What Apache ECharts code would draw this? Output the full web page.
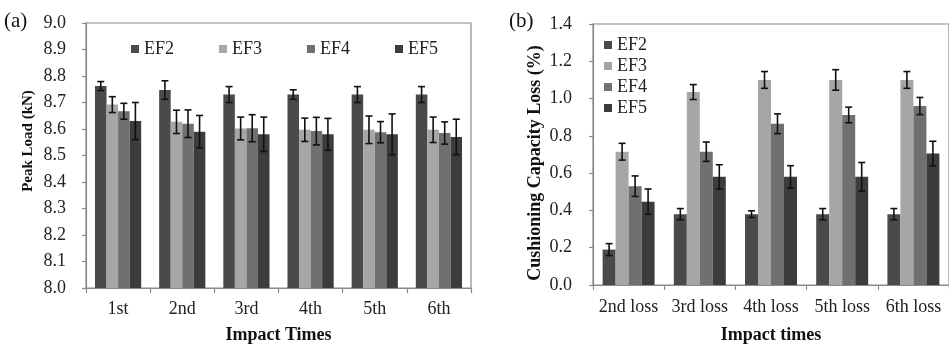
<!DOCTYPE html>
<html>
<head>
<meta charset="utf-8">
<script src="https://cdn.jsdelivr.net/npm/echarts@6/dist/echarts.min.js"></script>
<style>html,body{margin:0;padding:0;background:#fff;}#c{width:949px;height:349px;}</style>
</head>
<body>
<div id="c"></div>
<script>
// ---- Data ----
const seriesNames = ['EF2', 'EF3', 'EF4', 'EF5'];
const catsA = ['1st', '2nd', '3rd', '4th', '5th', '6th'];
const catsB = ['2nd loss', '3rd loss', '4th loss', '5th loss', '6th loss'];
const yTicksA = [8.0, 8.1, 8.2, 8.3, 8.4, 8.5, 8.6, 8.7, 8.8, 8.9, 9.0];
const yTicksB = [0.0, 0.2, 0.4, 0.6, 0.8, 1.0, 1.2, 1.4];

// (a) Peak load (kN)
const peakEF2 = [8.762, 8.747, 8.730, 8.730, 8.730, 8.730];
const peakEF3 = [8.692, 8.627, 8.602, 8.597, 8.597, 8.597];
const peakEF4 = [8.667, 8.620, 8.603, 8.592, 8.588, 8.585];
const peakEF5 = [8.630, 8.590, 8.580, 8.580, 8.580, 8.570];
const peakErrEF2 = [0.017, 0.035, 0.030, 0.018, 0.030, 0.030];
const peakErrEF3 = [0.030, 0.044, 0.043, 0.044, 0.052, 0.048];
const peakErrEF4 = [0.030, 0.052, 0.051, 0.052, 0.040, 0.042];
const peakErrEF5 = [0.070, 0.061, 0.065, 0.060, 0.077, 0.067];

// (b) Cushioning capacity loss (%)
const lossEF2 = [0.19, 0.38, 0.38, 0.38, 0.38];
const lossEF3 = [0.715, 1.035, 1.10, 1.10, 1.10];
const lossEF4 = [0.53, 0.715, 0.865, 0.912, 0.96];
const lossEF5 = [0.447, 0.58, 0.58, 0.58, 0.705];
const lossErrEF2 = [0.032, 0.030, 0.018, 0.030, 0.030];
const lossErrEF3 = [0.045, 0.040, 0.045, 0.055, 0.045];
const lossErrEF4 = [0.055, 0.052, 0.053, 0.042, 0.046];
const lossErrEF5 = [0.068, 0.065, 0.060, 0.077, 0.066];

const colors = ['#4a4a4a', '#a6a6a6', '#707070', '#3c3c3c'];
const FONT = 'Liberation Serif';
const gapA = 0.28, gapB = 0.27;

const valsA = [peakEF2, peakEF3, peakEF4, peakEF5];
const errsA = [peakErrEF2, peakErrEF3, peakErrEF4, peakErrEF5];
const valsB = [lossEF2, lossEF3, lossEF4, lossEF5];
const errsB = [lossErrEF2, lossErrEF3, lossErrEF4, lossErrEF5];

function errSeries(axisIdx, vals, errs, k, gap) {
  return {
    type: 'custom',
    xAxisIndex: axisIdx, yAxisIndex: axisIdx,
    z: 5, silent: true,
    data: vals.map((v, i) => [i, v, errs[i]]),
    renderItem: function (params, api) {
      const cat = api.value(0), v = api.value(1), e = api.value(2);
      const band = api.size([1, 0])[0];
      const bw = band * (1 - gap) / 4;
      const cx = api.coord([cat, v])[0] + (k - 1.5) * bw;
      const y1 = api.coord([cat, v + e])[1];
      const y2 = api.coord([cat, v - e])[1];
      const h = 3.5;
      const st = { stroke: '#111', lineWidth: 1.6 };
      return { type: 'group', children: [
        { type: 'line', shape: { x1: cx, y1: y1, x2: cx, y2: y2 }, style: st },
        { type: 'line', shape: { x1: cx - h, y1: y1, x2: cx + h, y2: y1 }, style: st },
        { type: 'line', shape: { x1: cx - h, y1: y2, x2: cx + h, y2: y2 }, style: st }
      ]};
    }
  };
}

const series = [];
seriesNames.forEach((n, k) => {
  series.push({ name: n, type: 'bar', xAxisIndex: 0, yAxisIndex: 0, data: valsA[k],
    barGap: '0%', barCategoryGap: (gapA * 100) + '%', itemStyle: { color: colors[k] } });
});
seriesNames.forEach((n, k) => {
  series.push({ name: n, type: 'bar', xAxisIndex: 1, yAxisIndex: 1, data: valsB[k],
    barGap: '0%', barCategoryGap: (gapB * 100) + '%', itemStyle: { color: colors[k] } });
});
seriesNames.forEach((n, k) => series.push(errSeries(0, valsA[k], errsA[k], k, gapA)));
seriesNames.forEach((n, k) => series.push(errSeries(1, valsB[k], errsB[k], k, gapB)));

const axisLineStyle = { color: '#8a8a8a', width: 1.2 };
const labelStyle = { color: '#222', fontFamily: FONT, fontSize: 18 };
const nameStyle = { color: '#111', fontFamily: FONT, fontSize: 18, fontWeight: 'bold' };

const option = {
  animation: false,
  backgroundColor: '#fff',
  grid: [
    { left: 86, top: 23, width: 385, height: 268, show: true, borderColor: '#8a8a8a', borderWidth: 1.2, containLabel: false },
    { left: 593, top: 24, width: 364, height: 268, show: true, borderColor: '#8a8a8a', borderWidth: 1.2, containLabel: false }
  ],
  legend: [
    { data: seriesNames, left: 126, top: 35, itemWidth: 8, itemHeight: 8, itemGap: 45, icon: 'rect',
      textStyle: { fontFamily: FONT, fontSize: 18, color: '#222' } },
    { data: seriesNames, orient: 'vertical', left: 599, top: 31, itemWidth: 8, itemHeight: 8, itemGap: 3, icon: 'rect',
      textStyle: { fontFamily: FONT, fontSize: 18, color: '#222' } }
  ],
  xAxis: [
    { type: 'category', gridIndex: 0, data: catsA, axisLine: { lineStyle: axisLineStyle },
      axisTick: { show: true, length: 5, lineStyle: axisLineStyle },
      axisLabel: Object.assign({ margin: 12, interval: 0, hideOverlap: false }, labelStyle),
      name: 'Impact Times', nameLocation: 'middle', nameGap: 38, nameTextStyle: nameStyle },
    { type: 'category', gridIndex: 1, data: catsB, axisLine: { lineStyle: axisLineStyle },
      axisTick: { show: true, length: 5, lineStyle: axisLineStyle },
      axisLabel: Object.assign({ margin: 13, interval: 0, hideOverlap: false }, labelStyle),
      name: 'Impact times', nameLocation: 'middle', nameGap: 41, nameTextStyle: nameStyle }
  ],
  yAxis: [
    { type: 'value', gridIndex: 0, min: yTicksA[0], max: yTicksA[yTicksA.length - 1], interval: 0.1,
      axisLine: { show: true, lineStyle: axisLineStyle }, axisTick: { show: true, length: 4, lineStyle: axisLineStyle },
      splitLine: { show: false },
      axisLabel: Object.assign({ margin: 20, formatter: v => v.toFixed(1) }, labelStyle) },
    { type: 'value', gridIndex: 1, min: yTicksB[0], max: yTicksB[yTicksB.length - 1], interval: 0.2,
      axisLine: { show: true, lineStyle: axisLineStyle }, axisTick: { show: true, length: 4, lineStyle: axisLineStyle },
      splitLine: { show: false },
      axisLabel: Object.assign({ margin: 21, formatter: v => v.toFixed(1) }, labelStyle) }
  ],
  graphic: [
    { type: 'text', left: 4, top: 11, style: { text: '(a)', font: '21px "Liberation Serif"', fill: '#111' } },
    { type: 'text', left: 509, top: 11, style: { text: '(b)', font: '21px "Liberation Serif"', fill: '#111' } },
    { type: 'text', x: 28, y: 141, rotation: Math.PI / 2,
      style: { text: 'Peak Load (kN)', font: 'bold 15px "Liberation Serif"', fill: '#111', align: 'center', verticalAlign: 'middle' } },
    { type: 'text', x: 535, y: 163, rotation: Math.PI / 2,
      style: { text: 'Cushioning Capacity Loss (%)', font: 'bold 18px "Liberation Serif"', fill: '#111', align: 'center', verticalAlign: 'middle' } }
  ],
  series: series
};

const chart = echarts.init(document.getElementById('c'), null, { renderer: 'canvas', width: 949, height: 349 });
chart.setOption(option);
</script>
</body>
</html>
